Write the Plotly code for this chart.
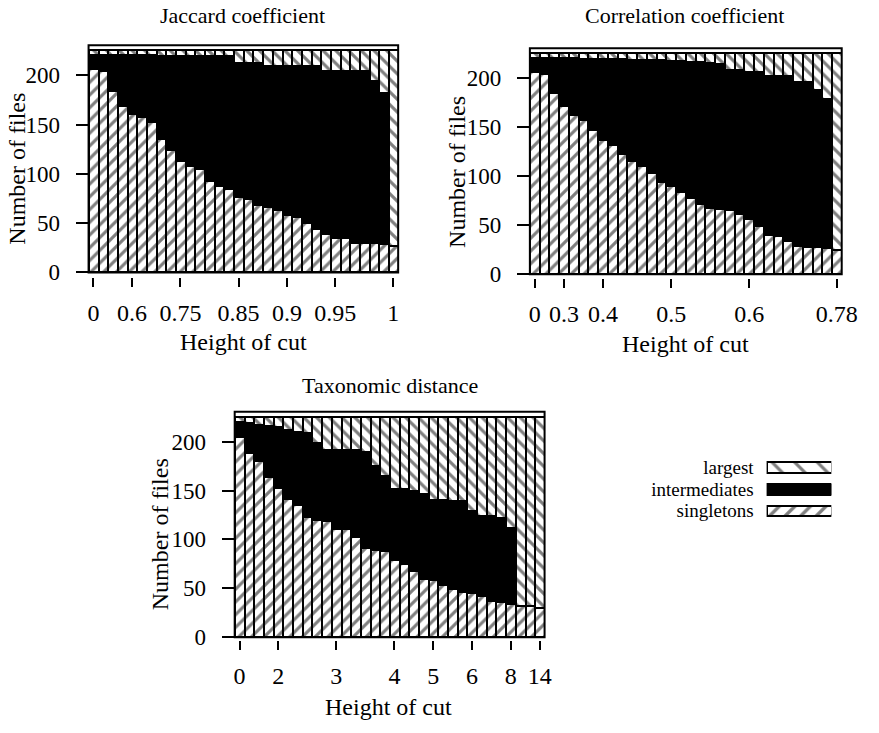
import plotly.graph_objects as go

W, H = 879, 733
FONT = "Liberation Serif"

bars = list(range(1, 33))

# ---- Jaccard coefficient ----
jac_singletons = [206, 204, 184, 169, 161, 157, 152, 135, 124, 113, 108, 105, 93, 87, 84, 76,
                  74, 68, 66, 63, 58, 56, 50, 44, 39, 35, 35, 30, 30, 30, 29, 27]
jac_intermediates = [14, 16, 36, 51, 59, 63, 68, 84, 95, 106, 111, 114, 126, 132, 135, 136,
                     138, 144, 143, 146, 151, 153, 159, 165, 165, 169, 169, 174, 174, 164, 153, 0]
jac_largest = [5, 5, 5, 5, 5, 5, 5, 6, 6, 6, 6, 6, 6, 6, 6, 13,
               13, 13, 16, 16, 16, 16, 16, 16, 21, 21, 21, 21, 21, 31, 43, 198]
jac_tickbars = [1, 5, 10, 16, 21, 26, 32]
jac_ticklabels = ["0", "0.6", "0.75", "0.85", "0.9", "0.95", "1"]

# ---- Correlation coefficient ----
cor_singletons = [206, 204, 185, 171, 162, 157, 147, 137, 132, 123, 115, 110, 103, 94, 90, 84,
                  78, 72, 67, 66, 65, 61, 56, 49, 40, 39, 34, 29, 28, 28, 27, 25]
cor_intermediates = [14, 16, 35, 49, 58, 62, 72, 82, 87, 96, 103, 108, 115, 124, 127, 133,
                     138, 144, 148, 148, 143, 147, 150, 157, 162, 163, 168, 167, 168, 160, 152, 0]
cor_largest = [5, 5, 5, 5, 5, 6, 6, 6, 6, 6, 7, 7, 7, 7, 8, 8,
               9, 9, 10, 11, 17, 17, 19, 19, 23, 23, 23, 29, 29, 37, 46, 200]
cor_tickbars = [1, 4, 8, 15, 23, 32]
cor_ticklabels = ["0", "0.3", "0.4", "0.5", "0.6", "0.78"]

# ---- Taxonomic distance ----
tax_singletons = [205, 189, 180, 164, 153, 141, 135, 123, 120, 119, 111, 111, 103, 91, 89, 88,
                  79, 75, 68, 60, 59, 54, 49, 46, 45, 42, 37, 36, 34, 32, 32, 30]
tax_intermediates = [15, 30, 37, 52, 62, 71, 75, 86, 79, 73, 81, 81, 89, 99, 86, 77,
                     73, 77, 82, 87, 81, 86, 90, 93, 84, 82, 87, 86, 78, 0, 0, 0]
tax_largest = [5, 6, 8, 9, 10, 13, 15, 16, 26, 33, 33, 33, 33, 35, 50, 60,
               73, 73, 75, 78, 85, 85, 86, 86, 96, 101, 101, 103, 113, 193, 193, 195]
tax_tickbars = [1, 5, 11, 17, 21, 25, 29, 32]
tax_ticklabels = ["0", "2", "3", "4", "5", "6", "8", "14"]

legend_labels = ["singletons", "intermediates", "largest"]
legend_value = [1]

y_ticks = [0, 50, 100, 150, 200]


def px(x):
    return x / W


def py(y):
    return 1 - y / H


HATCH = dict(fgcolor="black", bgcolor="white", size=9, solidity=0.35)
LINE = dict(color="black", width=2)

fig = go.Figure()

panels = [
    ("", jac_singletons, jac_intermediates, jac_largest, jac_tickbars, jac_ticklabels,
     (89.3, 405, 46, 277.3), 282, "Jaccard coefficient", (246, 16), (247, 348), (16, 172)),
    ("2", cor_singletons, cor_intermediates, cor_largest, cor_tickbars, cor_ticklabels,
     (539.3, 857.3, 49, 279.3), 283.5, "Correlation coefficient", (697, 16), (698, 350), (465, 175)),
    ("3", tax_singletons, tax_intermediates, tax_largest, tax_tickbars, tax_ticklabels,
     (238.3, 554.3, 419.3, 648.7), 652, "Taxonomic distance", (397, 392), (395, 720), (162, 544)),
]

annotations = []
shapes = []
for (sfx, s, m, l, tb, tl, box, tick_y, title, tpos, xlpos, ylpos) in panels:
    xa, ya = "x" + sfx, "y" + sfx
    fig.add_trace(go.Bar(x=bars, y=s, xaxis=xa, yaxis=ya, showlegend=False, name="singletons",
                         marker=dict(color="white", pattern=dict(shape="/", **HATCH), line=LINE)))
    fig.add_trace(go.Bar(x=bars, y=m, xaxis=xa, yaxis=ya, showlegend=False, name="intermediates",
                         marker=dict(color="black", line=LINE)))
    fig.add_trace(go.Bar(x=bars, y=l, xaxis=xa, yaxis=ya, showlegend=False, name="largest",
                         marker=dict(color="white", pattern=dict(shape="\\", **HATCH), line=LINE)))
    left, right, top, bottom = box
    fig.layout["xaxis" + sfx] = dict(
        domain=[px(left), px(right)], range=[0.5, 32.5], anchor="free", position=py(tick_y),
        showline=False, showgrid=False, zeroline=False, ticks="outside", ticklen=9,
        tickwidth=1.5, tickcolor="black", tickmode="array", tickvals=tb, ticktext=tl,
        ticklabelstandoff=5, tickfont=dict(family=FONT, size=24, color="black"))
    fig.layout["yaxis" + sfx] = dict(
        domain=[py(bottom), py(top)], range=[0, 230.5], anchor="x" + sfx,
        showline=False, showgrid=False, zeroline=False, ticks="outside", ticklen=12,
        tickwidth=1.5, tickcolor="black", tickmode="array", tickvals=y_ticks,
        ticklabelstandoff=11, tickfont=dict(family=FONT, size=23, color="black"))
    shapes.append(dict(type="rect", xref=xa + " domain", yref=ya + " domain",
                       x0=0, x1=1, y0=0, y1=1, line=dict(color="black", width=2),
                       fillcolor="rgba(0,0,0,0)", layer="above"))
    annotations.append(dict(text=title, x=px(tpos[0]), y=py(tpos[1]), xref="paper", yref="paper",
                            showarrow=False, xanchor="center", yanchor="middle",
                            font=dict(family=FONT, size=22, color="black")))
    annotations.append(dict(text="Height of cut", x=px(xlpos[0]), y=py(xlpos[1]), xref="paper",
                            yref="paper", showarrow=False, xanchor="center", yanchor="middle",
                            font=dict(family=FONT, size=24, color="black")))
    annotations.append(dict(text="Number of files", x=px(ylpos[0]), y=py(ylpos[1]), xref="paper",
                            yref="paper", showarrow=False, xanchor="center", yanchor="middle",
                            textangle=-90, font=dict(family=FONT, size=24, color="black")))

# ---- legend drawn as a tiny bar axis ----
fig.add_trace(go.Bar(x=legend_value, y=[legend_labels[0]], orientation="h", xaxis="x4", yaxis="y4",
                     width=0.5, showlegend=False,
                     marker=dict(color="white", pattern=dict(shape="/", fgcolor="black", bgcolor="white",
                                                             size=11, solidity=0.3), line=LINE)))
fig.add_trace(go.Bar(x=legend_value, y=[legend_labels[1]], orientation="h", xaxis="x4", yaxis="y4",
                     width=0.5, showlegend=False, marker=dict(color="black", line=LINE)))
fig.add_trace(go.Bar(x=legend_value, y=[legend_labels[2]], orientation="h", xaxis="x4", yaxis="y4",
                     width=0.5, showlegend=False,
                     marker=dict(color="white", pattern=dict(shape="\\", fgcolor="black", bgcolor="white",
                                                             size=16, solidity=0.2), line=LINE)))
fig.layout["xaxis4"] = dict(domain=[px(780.7), px(846.7)], range=[0, 1], anchor="y4",
                            visible=False)
fig.layout["yaxis4"] = dict(domain=[py(531), py(465)], range=[-0.5, 2.5], anchor="x4",
                            type="category", categoryorder="array", categoryarray=legend_labels,
                            tickmode="array", tickvals=legend_labels, ticktext=legend_labels,
                            showline=False, showgrid=False, zeroline=False, ticks="",
                            ticklabelstandoff=12,
                            tickfont=dict(family=FONT, size=19, color="black"))

fig.update_layout(
    width=W, height=H, margin=dict(l=0, r=0, t=0, b=0),
    paper_bgcolor="white", plot_bgcolor="white",
    barmode="stack", bargap=0,
    annotations=annotations, shapes=shapes,
    font=dict(family=FONT, color="black"),
)

fig.write_html("out.html")
